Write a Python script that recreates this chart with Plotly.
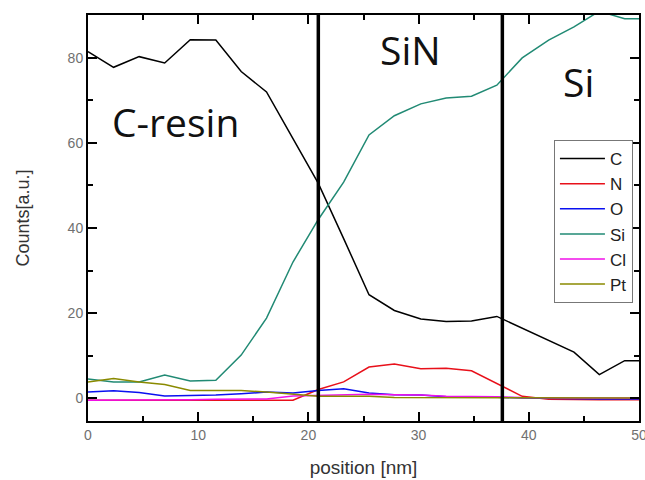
import plotly.graph_objects as go

position = [0.0, 2.32, 4.64, 6.96, 9.28, 11.6, 13.9, 16.2, 18.6, 20.9, 23.2, 25.5,
            27.8, 30.2, 32.5, 34.8, 37.1, 39.4, 41.8, 44.1, 46.4, 48.7, 51.0]

C = [81.5, 77.8, 80.3, 78.8, 84.3, 84.2, 76.8, 72.0, 61.0, 50.5, 37.5, 24.3,
     20.6, 18.6, 18.0, 18.1, 19.2, 16.5, 13.5, 10.8, 5.5, 8.8, 8.8]
N = [-0.5, -0.5, -0.5, -0.5, -0.5, -0.5, -0.5, -0.5, -0.5, 2.0, 3.8, 7.3,
     8.0, 6.9, 7.0, 6.4, 3.4, 0.4, -0.3, -0.4, -0.4, -0.4, -0.4]
O = [1.4, 1.7, 1.3, 0.5, 0.6, 0.7, 1.0, 1.4, 1.2, 1.8, 2.2, 1.2,
     0.8, 0.7, 0.3, 0.3, 0.2, 0.0, -0.1, -0.1, -0.2, -0.2, -0.2]
Si = [4.5, 3.8, 3.8, 5.4, 4.0, 4.2, 10.1, 18.8, 32.0, 42.0, 50.8, 61.9,
      66.4, 69.2, 70.6, 71.0, 73.6, 80.0, 84.2, 87.3, 91.0, 89.2, 89.2]
Cl = [-0.5, -0.5, -0.5, -0.5, -0.4, -0.3, -0.3, -0.2, 0.5, 0.6, 0.7, 0.9,
      0.8, 0.7, 0.4, 0.4, 0.3, 0.1, 0.0, 0.0, 0.0, 0.0, 0.0]
Pt = [3.8, 4.6, 3.8, 3.2, 1.8, 1.8, 1.8, 1.4, 0.9, 0.4, 0.4, 0.4,
      0.1, 0.1, 0.0, 0.0, 0.0, 0.0, 0.0, 0.0, 0.0, 0.0, 0.0]

series_names = ["C", "N", "O", "Si", "Cl", "Pt"]
series_values = [C, N, O, Si, Cl, Pt]
series_colors = ["#000000", "#e8101a", "#0a10f0", "#218a74", "#f010e8", "#8a8a00"]

boundaries = [20.9, 37.6]
region_labels = ["C-resin", "SiN", "Si"]
region_x = [7.9, 29.3, 44.5]
region_y = [65.0, 82.0, 74.5]

x_ticks = [0, 10, 20, 30, 40, 50]
y_ticks = [0, 20, 40, 60, 80]

fig = go.Figure()
for name, vals, col in zip(series_names, series_values, series_colors):
    fig.add_trace(go.Scatter(x=position, y=vals, mode="lines", name=name,
                             line=dict(color=col, width=1.5), cliponaxis=True))

for b in boundaries:
    fig.add_shape(type="line", x0=b, x1=b, xref="x", y0=0, y1=1, yref="paper",
                  line=dict(color="black", width=3.5))

for t, xx, yy in zip(region_labels, region_x, region_y):
    fig.add_annotation(x=xx, y=yy, text=t, showarrow=False,
                       font=dict(family="Open Sans", size=39, color="#111111"))

axis_common = dict(showline=True, linecolor="black", linewidth=2, mirror="ticks",
                   ticks="inside", tickcolor="black", tickwidth=1.5, ticklen=9,
                   showgrid=False, zeroline=False, automargin=False,
                   ticklabeloverflow="allow",
                   tickfont=dict(family="Liberation Sans Narrow, Liberation Sans", size=14, color="#707070"))

fig.update_xaxes(range=[0, 50], tickvals=x_ticks,
                 minor=dict(dtick=5, tick0=0, ticks="inside", ticklen=5, tickcolor="black", tickwidth=1.5),
                 title=dict(text="position [nm]", font=dict(family="Liberation Sans", size=19, color="#333333"),
                            standoff=19),
                 **axis_common)
fig.update_yaxes(range=[-5.4, 90.1], tickvals=y_ticks,
                 minor=dict(dtick=10, tick0=0, ticks="inside", ticklen=5, tickcolor="black", tickwidth=1.5),
                 title=dict(text="Counts[a.u.]", font=dict(family="Liberation Sans", size=18, color="#333333"),
                            standoff=33),
                 **axis_common)

fig.update_layout(
    width=645, height=480,
    margin=dict(l=88, r=6, t=15, b=59),
    paper_bgcolor="white", plot_bgcolor="white",
    showlegend=True,
    legend=dict(x=0.989, xanchor="right", y=0.692, yanchor="top",
                bgcolor="white", bordercolor="#777777", borderwidth=1,
                font=dict(family="Liberation Sans", size=17, color="#222222"),
                itemwidth=45, tracegroupgap=0),
)

fig.write_html("out.html")
